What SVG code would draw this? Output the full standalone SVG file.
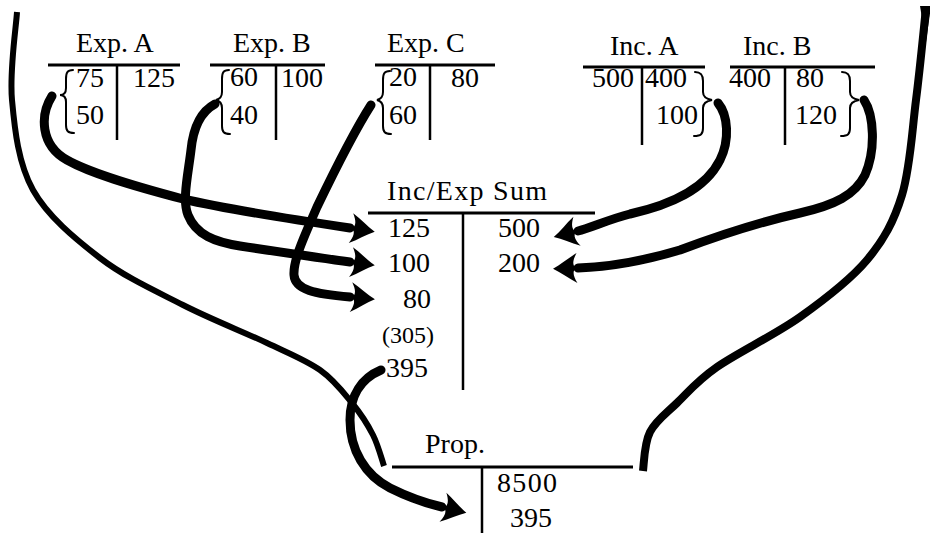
<svg xmlns="http://www.w3.org/2000/svg" width="930" height="533" viewBox="0 0 930 533">
<style>
text{font-family:"Liberation Serif","Times New Roman",serif;fill:#000}
.t{font-size:28px}
.n{font-size:28px}
.rule{stroke:#000;stroke-width:3;fill:none}
.vr{stroke:#000;stroke-width:2.5;fill:none}
.br{stroke:#000;stroke-width:2;fill:none;stroke-linecap:round}
.arr{stroke:#000;stroke-width:9;fill:none;stroke-linecap:round;marker-end:url(#ah)}
.big{stroke:#000;fill:none;stroke-linecap:butt}
</style>
<defs>
<marker id="ah" markerUnits="userSpaceOnUse" viewBox="-4 -17 32 34" markerWidth="32" markerHeight="34" refX="0" refY="0" orient="auto">
<path d="M25,0 C17,-4 10,-10 1,-15 C5,-8 6,-3 2,0 C6,3 5,8 1,15 C10,10 17,4 25,0 Z" fill="#000"/>
</marker>
</defs>
<rect width="930" height="533" fill="#fff"/>

<g id="connectors">
<path class="big" stroke-width="6" d="M17,12 C16.2,26.7 9.3,70.3 12,100 C14.7,129.7 18.3,163.7 33,190 C47.7,216.3 75,238.8 100,258 C125,277.2 155.2,290.8 183,305 C210.8,319.2 244.2,332.2 267,343 C289.8,353.8 305.8,360 320,370 C334.2,380 343.2,392.2 352,403 C360.8,413.8 367.7,424.5 373,435 C378.3,445.5 382.2,460.8 384,466"/>
<path class="big" stroke-width="8" d="M926,8 C924.3,23.3 920,68.8 916,100 C912,131.2 910.2,168.3 902,195 C893.8,221.7 884,239.7 867,260 C850,280.3 825,299.2 800,317 C775,334.8 737.5,352.7 717,367 C696.5,381.3 688.2,392.2 677,403 C665.8,413.8 655.7,420.7 650,432 C644.3,443.3 644.2,460 643,471"/>
<path d="M920,6 L931,6 L926,42 Z" fill="#000"/>
<path class="arr" d="M52,96 C40,115 40,145 67,160 C90,173 130,185 183,199 C230,210 310,222 350,228"/>
<path class="arr" d="M215,104 C200,112 193,130 191,150 C188,175 182,200 188,215 C196,235 215,242 240,246 C280,252 320,258 350,262"/>
<path class="arr" stroke-width="7" d="M371,105 C355,130 330,180 317,207 C305,235 293,260 294,275 C295,290 315,294 350,297"/>
<path class="arr" d="M718,103 C728,115 730,140 720,160 C705,190 670,205 630,214 C610,219 590,228 578,231"/>
<path class="arr" d="M864,100 C874,115 876,150 865,175 C855,195 835,205 800,213 C760,222 720,235 680,250 C640,262 610,267 578,268"/>
<path class="arr" d="M381,370 C362,378 350,395 350,420 C350,450 365,475 390,488 C410,498 425,503 442,507"/>
</g>

<g id="exp-a">
<text class="t" x="76" y="52">Exp. A</text>
<line class="rule" x1="48" y1="65" x2="180" y2="65"/>
<line class="vr" x1="117" y1="65" x2="117" y2="140"/>
<path class="br" d="M73,70 C67,70 66,73 66,79 L66,88 C66,93 64,95 60,95 C64,95 66,97 66,102 L66,125 C66,131 68,133 74,133"/>
<text class="n" x="76" y="87">75</text>
<text class="n" x="76" y="124">50</text>
<text class="n" x="133" y="87">125</text>
</g>

<g id="exp-b">
<text class="t" x="233" y="52">Exp. B</text>
<line class="rule" x1="210" y1="65" x2="325" y2="65"/>
<line class="vr" x1="276" y1="65" x2="276" y2="140"/>
<path class="br" d="M229,70 C223,70 222,73 222,79 L222,92 C222,97 220,99 216,100 C220,101 222,103 222,108 L222,126 C222,132 224,134 230,134"/>
<text class="n" x="230" y="86">60</text>
<text class="n" x="230" y="124">40</text>
<text class="n" x="281" y="87">100</text>
</g>

<g id="exp-c">
<text class="t" x="387" y="52">Exp. C</text>
<line class="rule" x1="375" y1="65" x2="495" y2="65"/>
<line class="vr" x1="430" y1="65" x2="430" y2="140"/>
<path class="br" d="M390,71 C384,71 383,74 383,80 L383,92 C383,97 381,99 377,100 C381,101 383,103 383,108 L383,126 C383,132 385,134 391,134"/>
<text class="n" x="389" y="86">20</text>
<text class="n" x="389" y="124">60</text>
<text class="n" x="451" y="87">80</text>
</g>

<g id="inc-a">
<text class="t" x="610" y="55">Inc. A</text>
<line class="rule" x1="583" y1="67" x2="705" y2="67"/>
<line class="vr" x1="642" y1="67" x2="642" y2="145"/>
<path class="br" d="M695,72 C701,72 703,75 703,81 L703,92 C703,97 706,99 712,100 C706,101 703,103 703,108 L703,128 C703,134 701,136 694,136"/>
<text class="n" x="592" y="87">500</text>
<text class="n" x="645" y="87">400</text>
<text class="n" x="656" y="124">100</text>
</g>

<g id="inc-b">
<text class="t" x="743" y="55">Inc. B</text>
<line class="rule" x1="730" y1="67" x2="875" y2="67"/>
<line class="vr" x1="785" y1="67" x2="785" y2="145"/>
<path class="br" d="M842,72 C848,72 850,75 850,81 L850,92 C850,97 853,99 859,100 C853,101 850,103 850,108 L850,128 C850,134 848,136 841,136"/>
<text class="n" x="729" y="87">400</text>
<text class="n" x="796" y="87">80</text>
<text class="n" x="795" y="124">120</text>
</g>

<g id="inc-exp-sum">
<text class="t" x="387" y="200" textLength="160" lengthAdjust="spacing">Inc/Exp Sum</text>
<line class="rule" x1="368" y1="213" x2="595" y2="213"/>
<line class="vr" x1="463" y1="213" x2="463" y2="390"/>
<text class="t" x="388" y="237">125</text>
<text class="t" x="388" y="272">100</text>
<text class="t" x="403" y="308">80</text>
<text x="382" y="343" style="font-size:24px">(305)</text>
<text class="t" x="386" y="377">395</text>
<text class="t" x="498" y="237">500</text>
<text class="t" x="498" y="272">200</text>
</g>

<g id="prop">
<text class="t" x="425" y="453">Prop.</text>
<line class="rule" x1="392" y1="467" x2="633" y2="467"/>
<line class="vr" x1="482" y1="467" x2="482" y2="533"/>
<text class="t" x="497" y="492" textLength="60" lengthAdjust="spacing">8500</text>
<text class="t" x="510" y="527">395</text>
</g>
</svg>
